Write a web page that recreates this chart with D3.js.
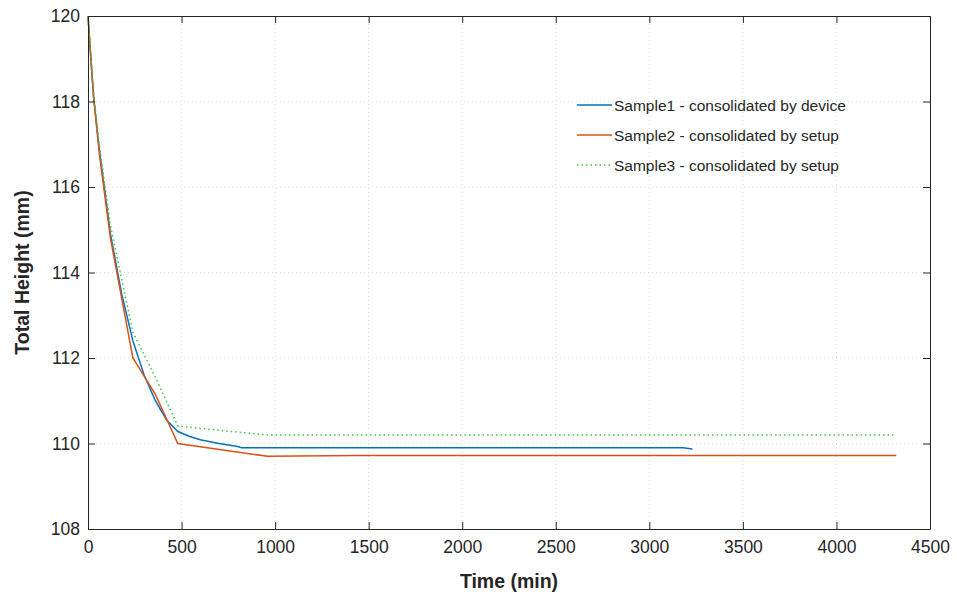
<!DOCTYPE html>
<html>
<head>
<meta charset="utf-8" />
<script src="https://cdn.jsdelivr.net/npm/d3@7/dist/d3.min.js"></script>
<style>
  body { margin: 0; background: #fff; }
  text { font-family: "Liberation Sans", Arial, sans-serif; fill: #262626; }
</style>
</head>
<body>
<script>
var w = 957;
var h = 598;

var xTicks = [0, 500, 1000, 1500, 2000, 2500, 3000, 3500, 4000, 4500];
var yTicks = [108, 110, 112, 114, 116, 118, 120];

var sample1 = [[0, 120], [15, 119.0], [30, 118.1], [60, 116.9], [120, 114.9], [180, 113.5],
  [240, 112.4], [300, 111.6], [360, 111.0], [420, 110.55], [480, 110.28], [540, 110.17],
  [600, 110.09], [700, 110.0], [800, 109.93], [820, 109.9], [1500, 109.9], [3180, 109.9], [3230, 109.87]];
var sample2 = [[0, 120], [30, 118.1], [60, 116.8], [120, 114.8], [240, 112.0], [360, 111.15],
  [480, 110.0], [960, 109.7], [1440, 109.72], [4320, 109.72]];
var sample3 = [[0, 120], [30, 118.2], [60, 117.0], [120, 115.1], [240, 112.6], [360, 111.55],
  [480, 110.41], [720, 110.3], [960, 110.2], [4320, 110.2]];

var names = ["Sample1 - consolidated by device", "Sample2 - consolidated by setup", "Sample3 - consolidated by setup"];
var series = [sample1, sample2, sample3];
var colors = ["#0072BD", "#D95319", "#3fc43f"];
var dashes = [null, null, "1.5,3"];

var m = {left: 88, top: 16, right: 27, bottom: 69};
var pw = w - m.left - m.right;
var ph = h - m.top - m.bottom;

var x = d3.scaleLinear().domain([0, 4500]).range([0, pw]);
var y = d3.scaleLinear().domain([108, 120]).range([ph, 0]);

var svg = d3.select("body").append("svg").attr("width", w).attr("height", h);
var g = svg.append("g").attr("transform", "translate(" + m.left + "," + m.top + ")");

// grid
g.selectAll(".gx").data(xTicks.slice(1, -1)).enter().append("line")
  .attr("x1", function(d) { return x(d); }).attr("x2", function(d) { return x(d); })
  .attr("y1", 0).attr("y2", ph)
  .attr("stroke", "#dcdcdc").attr("stroke-dasharray", "1,3");
g.selectAll(".gy").data(yTicks.slice(1, -1)).enter().append("line")
  .attr("y1", function(d) { return y(d); }).attr("y2", function(d) { return y(d); })
  .attr("x1", 0).attr("x2", pw)
  .attr("stroke", "#dcdcdc").attr("stroke-dasharray", "1,3");

// lines
var line = d3.line().x(function(d) { return x(d[0]); }).y(function(d) { return y(d[1]); });
series.forEach(function(s, i) {
  g.append("path").datum(s).attr("d", line)
    .attr("fill", "none").attr("stroke", colors[i])
    .attr("stroke-width", 1.5)
    .attr("stroke-dasharray", dashes[i]);
});

// axes (box with inward ticks)
var tk = 7;
var fmt = d3.format("d");
var xAxis = d3.axisBottom(x).tickValues(xTicks).tickFormat(fmt).tickSizeInner(-tk).tickSizeOuter(0).tickPadding(12);
var yAxis = d3.axisLeft(y).tickValues(yTicks).tickFormat(fmt).tickSizeInner(-tk).tickSizeOuter(0).tickPadding(8);
var ax = g.append("g").attr("transform", "translate(0," + ph + ")").call(xAxis);
var ay = g.append("g").call(yAxis);
var axT = g.append("g").call(d3.axisTop(x).tickValues(xTicks).tickSizeInner(-tk).tickSizeOuter(0).tickFormat(""));
var ayR = g.append("g").attr("transform", "translate(" + pw + ",0)")
  .call(d3.axisRight(y).tickValues(yTicks).tickSizeInner(-tk).tickSizeOuter(0).tickFormat(""));
[ax, ay, axT, ayR].forEach(function(a) {
  a.selectAll("path").attr("stroke", "#262626");
  a.selectAll("line").attr("stroke", "#262626");
  a.selectAll("text").style("font-size", "17.5px").attr("fill", "#404040");
});

// labels
svg.append("text").attr("x", m.left + pw / 2).attr("y", 588)
  .attr("text-anchor", "middle").style("font-size", "19.5px").style("font-weight", "bold")
  .attr("fill", "#000").text("Time (min)");
svg.append("text").attr("transform", "translate(29," + (m.top + ph / 2) + ") rotate(-90)")
  .attr("text-anchor", "middle").style("font-size", "19.5px").style("font-weight", "bold")
  .attr("fill", "#000").text("Total Height (mm)");

// legend
var lg = svg.append("g").attr("transform", "translate(577,105)");
names.forEach(function(n, i) {
  var row = lg.append("g").attr("transform", "translate(0," + (i * 30) + ")");
  row.append("line").attr("x1", 0).attr("x2", 35).attr("y1", 0).attr("y2", 0)
    .attr("stroke", colors[i]).attr("stroke-width", 1.5).attr("stroke-dasharray", dashes[i]);
  row.append("text").attr("x", 37).attr("y", 5.5).style("font-size", "15.5px").attr("fill", "#262626").text(n);
});
</script>
</body>
</html>
